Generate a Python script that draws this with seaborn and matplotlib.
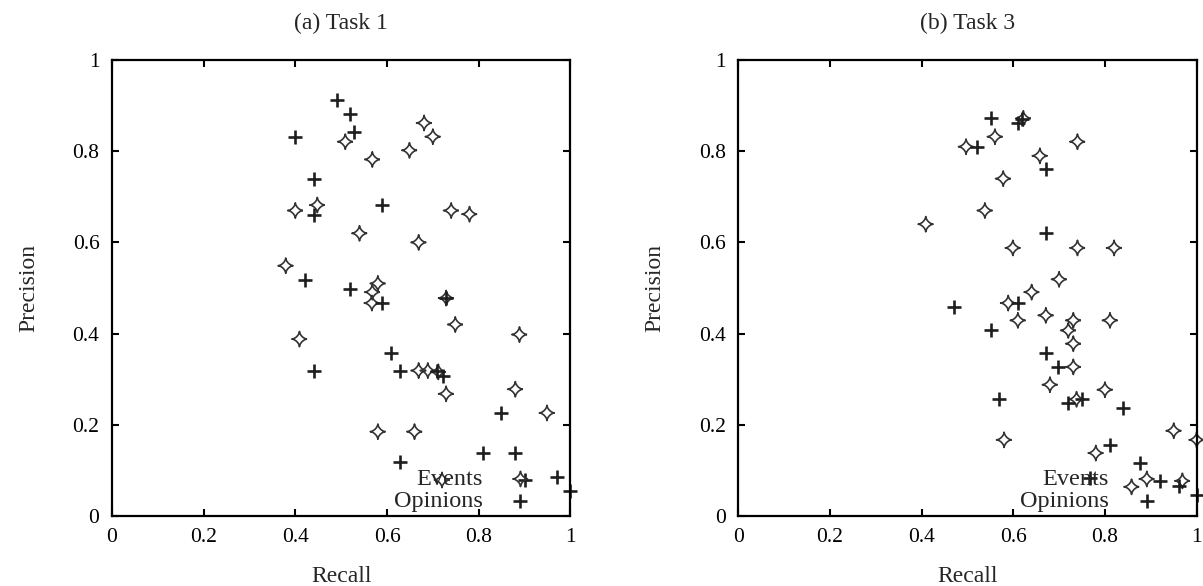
#%%
import numpy as np
import pandas as pd
import matplotlib
matplotlib.use('Agg')
import matplotlib.pyplot as plt
import seaborn as sns

#%%
# Task 1
t1_events_recall = [0.509, 0.448, 0.40, 0.379, 0.568, 0.681, 0.70, 0.649, 0.74, 0.78,
                    0.54, 0.669, 0.409, 0.58, 0.568, 0.567, 0.729, 0.749, 0.889, 0.669,
                    0.689, 0.712, 0.729, 0.88, 0.949, 0.58, 0.66, 0.72]
t1_events_precision = [0.821, 0.682, 0.67, 0.549, 0.782, 0.862, 0.832, 0.802, 0.67, 0.662,
                       0.62, 0.60, 0.388, 0.51, 0.491, 0.467, 0.478, 0.42, 0.398, 0.319,
                       0.319, 0.316, 0.268, 0.278, 0.226, 0.185, 0.185, 0.079]
t1_opinions_recall = [0.49, 0.52, 0.40, 0.528, 0.44, 0.44, 0.589, 0.42, 0.52, 0.59,
                      0.729, 0.44, 0.609, 0.629, 0.709, 0.722, 0.849, 0.809, 0.88, 0.629,
                      0.90, 0.971, 1.0]
t1_opinions_precision = [0.912, 0.881, 0.832, 0.842, 0.74, 0.66, 0.682, 0.517, 0.498, 0.467,
                         0.478, 0.317, 0.358, 0.319, 0.319, 0.308, 0.226, 0.138, 0.138, 0.118,
                         0.078, 0.085, 0.055]

# Task 3
t3_events_recall = [0.497, 0.409, 0.56, 0.622, 0.74, 0.658, 0.578, 0.538, 0.599, 0.74,
                    0.82, 0.70, 0.64, 0.589, 0.61, 0.671, 0.731, 0.72, 0.811, 0.731,
                    0.731, 0.68, 0.80, 0.738, 0.58, 0.95, 1.0, 0.78, 0.858, 0.969]
t3_events_precision = [0.81, 0.64, 0.832, 0.872, 0.821, 0.79, 0.74, 0.67, 0.588, 0.588,
                       0.588, 0.519, 0.491, 0.467, 0.429, 0.44, 0.429, 0.407, 0.429, 0.378,
                       0.327, 0.288, 0.277, 0.256, 0.167, 0.187, 0.167, 0.138, 0.064, 0.077]
t3_opinions_recall = [0.521, 0.551, 0.611, 0.62, 0.671, 0.671, 0.471, 0.611, 0.551, 0.671,
                      0.698, 0.569, 0.72, 0.749, 0.84, 0.811, 0.876, 0.767, 0.92, 0.962, 1.0]
t3_opinions_precision = [0.81, 0.872, 0.862, 0.87, 0.762, 0.621, 0.458, 0.467, 0.407, 0.358,
                         0.327, 0.256, 0.248, 0.256, 0.237, 0.156, 0.116, 0.083, 0.077, 0.066, 0.046]

titles = ['(a) Task 1', '(b) Task 3']
ticks = [0, 0.2, 0.4, 0.6, 0.8, 1]
tick_labels = ['0', '0.2', '0.4', '0.6', '0.8', '1']

#%%
sns.set_style('ticks')
plt.rcParams['font.family'] = ['Liberation Serif', 'DejaVu Serif']

# concave four-point star like the gnuplot point type
t = np.linspace(0, 2 * np.pi, 161)
star = np.column_stack([np.sign(np.cos(t)) * np.abs(np.cos(t)) ** 3.1,
                        np.sign(np.sin(t)) * np.abs(np.sin(t)) ** 3.1])

panels = [
    (pd.DataFrame({'recall': t1_events_recall, 'precision': t1_events_precision}),
     pd.DataFrame({'recall': t1_opinions_recall, 'precision': t1_opinions_precision})),
    (pd.DataFrame({'recall': t3_events_recall, 'precision': t3_events_precision}),
     pd.DataFrame({'recall': t3_opinions_recall, 'precision': t3_opinions_precision})),
]

fig = plt.figure(figsize=(12.03, 5.86), dpi=100)
lefts = [0.0931, 0.6137]

for i, (ev, op) in enumerate(panels):
    ax = fig.add_axes([lefts[i], 0.1195, 0.381, 0.778])
    sns.scatterplot(data=ev, x='recall', y='precision', marker=star, s=120,
                    facecolor='none', edgecolor='#333333', linewidth=1.2,
                    label='Events', clip_on=False, ax=ax)
    sns.scatterplot(data=op, x='recall', y='precision', marker='+', s=100,
                    color='#1e1e1e', linewidth=1.9, label='Opinions',
                    clip_on=False, ax=ax)
    ax.set_xlim(0, 1)
    ax.set_ylim(0, 1)
    ax.set_xticks(ticks, tick_labels)
    ax.set_yticks(ticks, tick_labels)
    ax.tick_params(direction='in', length=5, width=1.5, top=True, right=True,
                   labelsize=15.5, pad=9, colors='black')
    for sp in ax.spines.values():
        sp.set_visible(True)
        sp.set_linewidth(1.6)
        sp.set_color('black')
    ax.set_xlabel('Recall', fontsize=17, labelpad=13.5)
    ax.set_ylabel('Precision', fontsize=17, labelpad=24)
    ax.set_title(titles[i], fontsize=17, pad=22)
    ax.legend(loc='lower right', bbox_to_anchor=(0.931, 0.008), markerfirst=False,
              frameon=False, fontsize=17.5, handlelength=1.5, handletextpad=0.8,
              labelspacing=0.0, borderpad=0, borderaxespad=0)

plt.savefig('out.png', dpi=100)
